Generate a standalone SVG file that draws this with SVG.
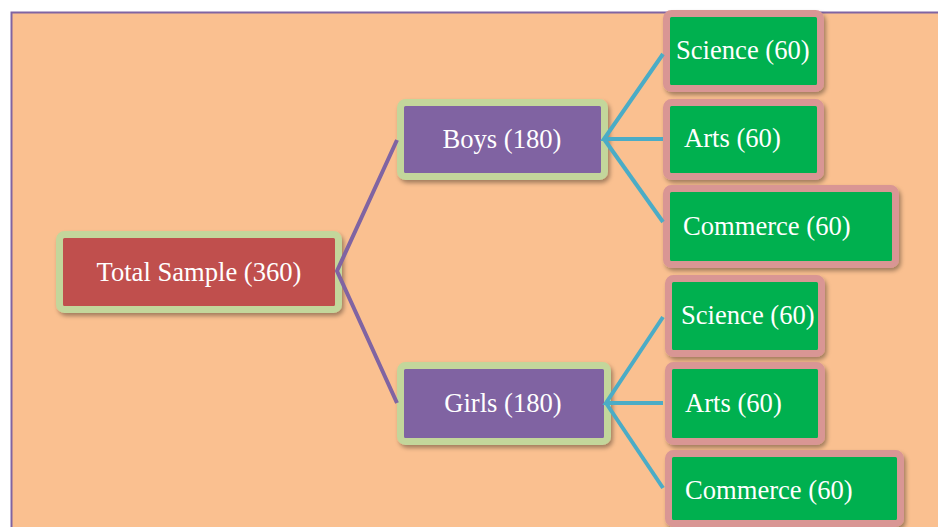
<svg xmlns="http://www.w3.org/2000/svg" width="938" height="527" viewBox="0 0 938 527">
<defs>
<filter id="sh" x="-10%" y="-20%" width="130%" height="150%">
<feDropShadow dx="2" dy="3" stdDeviation="2" flood-color="#000" flood-opacity="0.35"/>
</filter>
</defs>
<style>
.t{font-family:"Liberation Serif","Times New Roman",serif;font-size:26.6px;fill:#ffffff}
.c{text-anchor:middle}
.mid{fill:#8064a2;stroke:#c3d69b;stroke-width:7}
.root{fill:#c0504d;stroke:#c3d69b;stroke-width:7}
.leaf{fill:#00b050;stroke:#d99694;stroke-width:7}
.pc{fill:none;stroke:#8064a2;stroke-width:4;stroke-linejoin:miter}
.cc{fill:none;stroke:#4bacc6;stroke-width:4;stroke-linejoin:miter}
</style>
<rect x="0" y="0" width="938" height="527" fill="#ffffff"/>
<rect x="11.5" y="12.5" width="940" height="530" fill="#fac090" stroke="#8064a2" stroke-width="2"/>
<g id="total">
<rect class="root" x="59.5" y="234.5" width="279" height="75" rx="5" filter="url(#sh)"/>
<text class="t c" x="199" y="281">Total Sample (360)</text>
</g>
<g id="boys">
<rect class="mid" x="400.5" y="102.5" width="204" height="74" rx="5" filter="url(#sh)"/>
<text class="t c" x="502" y="148">Boys (180)</text>
</g>
<g id="girls">
<rect class="mid" x="400.5" y="365.5" width="207" height="76" rx="5" filter="url(#sh)"/>
<text class="t c" x="503" y="412">Girls (180)</text>
</g>
<g id="boys-science">
<rect class="leaf" x="666.5" y="13.5" width="154" height="75" rx="5" filter="url(#sh)"/>
<text class="t" x="676" y="59">Science (60)</text>
</g>
<g id="boys-arts">
<rect class="leaf" x="666.5" y="102.5" width="154" height="74" rx="5" filter="url(#sh)"/>
<text class="t" x="684" y="147">Arts (60)</text>
</g>
<g id="boys-commerce">
<rect class="leaf" x="666.5" y="188.5" width="229" height="76" rx="5" filter="url(#sh)"/>
<text class="t" x="683" y="235">Commerce (60)</text>
</g>
<g id="girls-science">
<rect class="leaf" x="668.5" y="278.5" width="153" height="75" rx="5" filter="url(#sh)"/>
<text class="t" x="681" y="324">Science (60)</text>
</g>
<g id="girls-arts">
<rect class="leaf" x="668.5" y="365.5" width="153" height="76" rx="5" filter="url(#sh)"/>
<text class="t" x="685" y="412">Arts (60)</text>
</g>
<g id="girls-commerce">
<rect class="leaf" x="668.5" y="453.5" width="232" height="70" rx="5" filter="url(#sh)"/>
<text class="t" x="685" y="499">Commerce (60)</text>
</g>
<g id="connectors">
<polyline class="pc" points="397,140 337,271 397,403"/>
<polyline class="cc" points="663,54 604,139 663,139"/>
<line class="cc" x1="604" y1="139" x2="663" y2="222"/>
<polyline class="cc" points="663,317 606,403 663,403"/>
<line class="cc" x1="606" y1="403" x2="663" y2="488"/>
</g>
</svg>
